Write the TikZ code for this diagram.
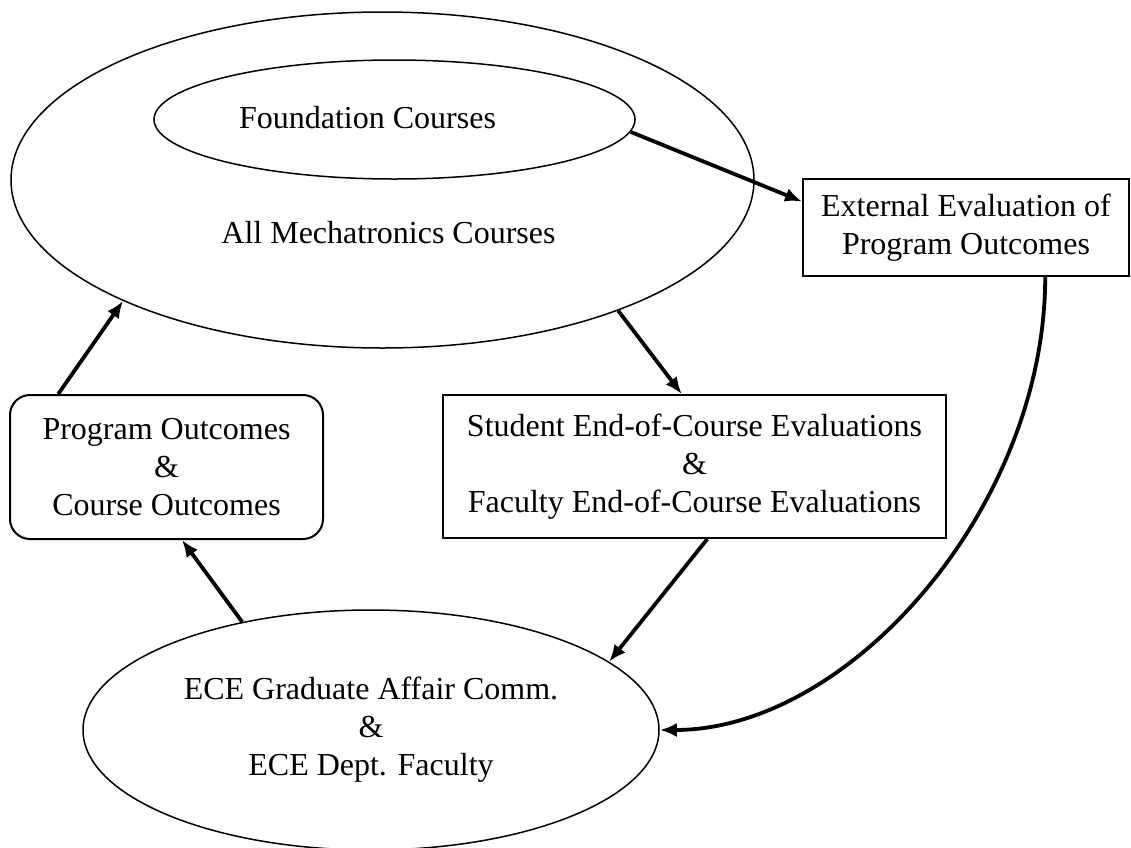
\documentclass[tikz,border=0pt]{standalone}
\usepackage{fontspec}
\setmainfont{Liberation Serif}
\usetikzlibrary{shapes.geometric, arrows.meta, positioning}

\begin{document}
\begin{tikzpicture}[x=0.5pt,y=-0.5pt,->,>={Latex[length=8.5pt,width=7pt]},line width=1.9pt,font=\fontsize{16}{19}\selectfont]
	\tikzset{ring/.style={ellipse, draw, line width=0.75pt, inner sep=0pt, align=center},
		box/.style={rectangle, draw, line width=1pt, inner sep=0pt, align=center}}
	\useasboundingbox (0,0) rectangle (1131,847);
	\node[ring, minimum width=371.5pt, minimum height=168pt] (all) at (382.5,180) {};
	\node[ring, minimum width=240.5pt, minimum height=59.5pt] (found) at (394.5,119.5) {};
	\node (alltext) at (388.5,233) {All Mechatronics Courses};
	\node (foundtext) at (367.5,118) {Foundation Courses};
	\node[box, minimum width=163pt, minimum height=48.5pt] (ext) at (966,227.5) {External Evaluation of\\Program Outcomes};
	\node[box, rounded corners=10pt, minimum width=156.5pt, minimum height=72pt] (outc) at (166.5,467) {Program Outcomes\\\&\\Course Outcomes};
	\node[box, minimum width=251.5pt, minimum height=71.5pt] (evals) at (694.5,466.5) {Student End-of-Course Evaluations\\\&\\Faculty End-of-Course Evaluations};
	\node[ring, minimum width=288pt, minimum height=120pt] (ece) at (371,730) {ECE Graduate Affair Comm.\\\&\\ECE Dept. Faculty};
	\path
		(found.-3) edge (ext.171)
		(outc.146) edge (all.205.5)
		(all.-29) edge (evals.100)
		(evals.-80) edge (ece.16)
		(ece.140) edge (outc.-78);
	\draw (ext.-32) .. controls +(0,230) and +(190,0) .. (ece.east);
\end{tikzpicture}
\end{document}
